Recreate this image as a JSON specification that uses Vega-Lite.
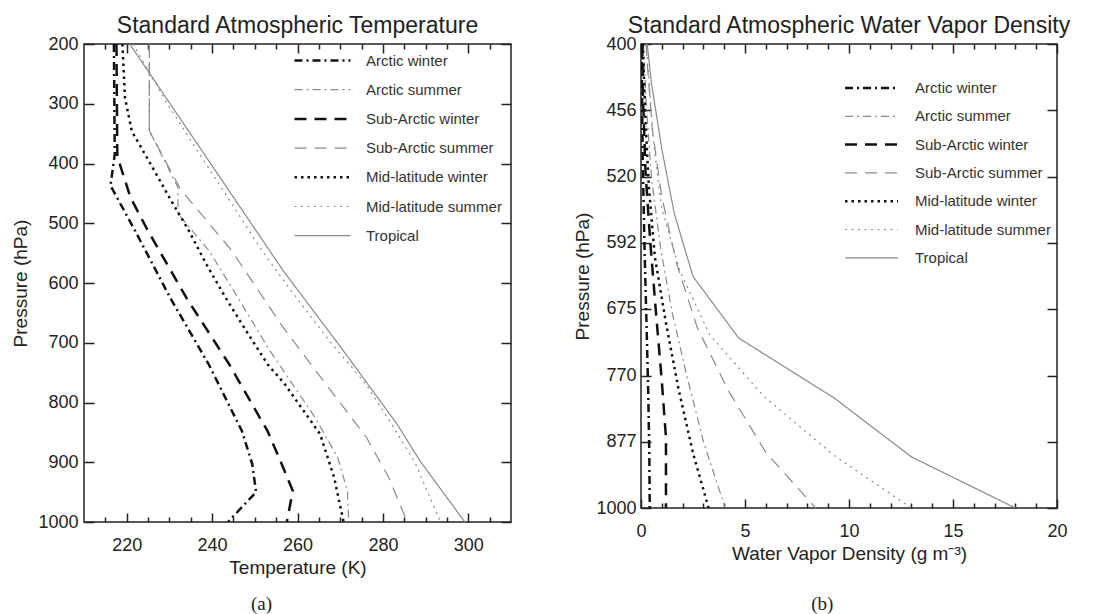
{
  "$schema": "https://vega.github.io/schema/vega-lite/v6.json",
  "background": "white",
  "padding": {"left": 11, "top": 14, "right": 5, "bottom": 0},
  "spacing": 61,
  "config": {"view": {"stroke": "#222", "strokeWidth": 1.5}, "font": "Liberation Sans"},
  "resolve": {"scale": {"color": "independent", "strokeDash": "independent"}, "legend": {"color": "independent", "strokeDash": "independent"}},
  "datasets": {
    "temp": [
      {"atm":"Arctic winter","p":200,"T":217.0},{"atm":"Arctic winter","p":385,"T":217.2},{"atm":"Arctic winter","p":437,"T":216.2},{"atm":"Arctic winter","p":513,"T":222.0},{"atm":"Arctic winter","p":625,"T":230.2},{"atm":"Arctic winter","p":736,"T":239.2},{"atm":"Arctic winter","p":848,"T":247.0},{"atm":"Arctic winter","p":903,"T":249.4},{"atm":"Arctic winter","p":950,"T":250.3},{"atm":"Arctic winter","p":1000,"T":243.7},
      {"atm":"Arctic summer","p":200,"T":225.3},{"atm":"Arctic summer","p":345,"T":225.3},{"atm":"Arctic summer","p":440,"T":232.0},{"atm":"Arctic summer","p":484,"T":232.0},{"atm":"Arctic summer","p":546,"T":239.3},{"atm":"Arctic summer","p":630,"T":246.5},{"atm":"Arctic summer","p":714,"T":253.6},{"atm":"Arctic summer","p":825,"T":264.1},{"atm":"Arctic summer","p":892,"T":269.4},{"atm":"Arctic summer","p":948,"T":271.7},{"atm":"Arctic summer","p":1000,"T":272.0},
      {"atm":"Sub-Arctic winter","p":200,"T":217.6},{"atm":"Sub-Arctic winter","p":388,"T":217.8},{"atm":"Sub-Arctic winter","p":457,"T":220.9},{"atm":"Sub-Arctic winter","p":513,"T":225.0},{"atm":"Sub-Arctic winter","p":625,"T":234.0},{"atm":"Sub-Arctic winter","p":736,"T":244.0},{"atm":"Sub-Arctic winter","p":848,"T":253.0},{"atm":"Sub-Arctic winter","p":903,"T":256.3},{"atm":"Sub-Arctic winter","p":948,"T":258.9},{"atm":"Sub-Arctic winter","p":1000,"T":257.5},
      {"atm":"Sub-Arctic summer","p":200,"T":225.3},{"atm":"Sub-Arctic summer","p":345,"T":225.3},{"atm":"Sub-Arctic summer","p":443,"T":232.6},{"atm":"Sub-Arctic summer","p":546,"T":244.6},{"atm":"Sub-Arctic summer","p":674,"T":256.6},{"atm":"Sub-Arctic summer","p":781,"T":267.9},{"atm":"Sub-Arctic summer","p":859,"T":276.2},{"atm":"Sub-Arctic summer","p":926,"T":281.4},{"atm":"Sub-Arctic summer","p":1000,"T":285.7},
      {"atm":"Mid-latitude winter","p":200,"T":219.0},{"atm":"Mid-latitude winter","p":290,"T":219.6},{"atm":"Mid-latitude winter","p":346,"T":221.2},{"atm":"Mid-latitude winter","p":401,"T":225.6},{"atm":"Mid-latitude winter","p":457,"T":230.0},{"atm":"Mid-latitude winter","p":513,"T":234.6},{"atm":"Mid-latitude winter","p":568,"T":238.6},{"atm":"Mid-latitude winter","p":625,"T":243.2},{"atm":"Mid-latitude winter","p":686,"T":248.5},{"atm":"Mid-latitude winter","p":736,"T":253.0},{"atm":"Mid-latitude winter","p":769,"T":257.0},{"atm":"Mid-latitude winter","p":853,"T":265.3},{"atm":"Mid-latitude winter","p":926,"T":268.6},{"atm":"Mid-latitude winter","p":1000,"T":270.8},
      {"atm":"Mid-latitude summer","p":200,"T":221.5},{"atm":"Mid-latitude summer","p":300,"T":229.5},{"atm":"Mid-latitude summer","p":400,"T":238.5},{"atm":"Mid-latitude summer","p":546,"T":251.7},{"atm":"Mid-latitude summer","p":613,"T":258.5},{"atm":"Mid-latitude summer","p":697,"T":267.5},{"atm":"Mid-latitude summer","p":769,"T":276.0},{"atm":"Mid-latitude summer","p":836,"T":282.0},{"atm":"Mid-latitude summer","p":900,"T":287.5},{"atm":"Mid-latitude summer","p":1000,"T":293.5},
      {"atm":"Tropical","p":200,"T":220.7},{"atm":"Tropical","p":580,"T":256.7},{"atm":"Tropical","p":708,"T":270.2},{"atm":"Tropical","p":836,"T":283.3},{"atm":"Tropical","p":900,"T":288.9},{"atm":"Tropical","p":1000,"T":299.2}
    ],
    "wv": [
      {"atm":"Arctic winter","p":400,"v":0.03},{"atm":"Arctic winter","p":500,"v":0.08},{"atm":"Arctic winter","p":600,"v":0.17},{"atm":"Arctic winter","p":700,"v":0.27},{"atm":"Arctic winter","p":800,"v":0.35},{"atm":"Arctic winter","p":900,"v":0.40},{"atm":"Arctic winter","p":1000,"v":0.42},
      {"atm":"Arctic summer","p":400,"v":0.12},{"atm":"Arctic summer","p":450,"v":0.25},{"atm":"Arctic summer","p":520,"v":0.5},{"atm":"Arctic summer","p":600,"v":0.95},{"atm":"Arctic summer","p":680,"v":1.5},{"atm":"Arctic summer","p":770,"v":2.2},{"atm":"Arctic summer","p":877,"v":3.0},{"atm":"Arctic summer","p":1000,"v":4.05},
      {"atm":"Sub-Arctic winter","p":400,"v":0.06},{"atm":"Sub-Arctic winter","p":447,"v":0.1},{"atm":"Sub-Arctic winter","p":516,"v":0.22},{"atm":"Sub-Arctic winter","p":593,"v":0.45},{"atm":"Sub-Arctic winter","p":680,"v":0.72},{"atm":"Sub-Arctic winter","p":778,"v":1.0},{"atm":"Sub-Arctic winter","p":870,"v":1.2},{"atm":"Sub-Arctic winter","p":1000,"v":1.2},
      {"atm":"Sub-Arctic summer","p":400,"v":0.25},{"atm":"Sub-Arctic summer","p":413,"v":0.29},{"atm":"Sub-Arctic summer","p":473,"v":0.54},{"atm":"Sub-Arctic summer","p":541,"v":1.0},{"atm":"Sub-Arctic summer","p":616,"v":1.7},{"atm":"Sub-Arctic summer","p":700,"v":2.7},{"atm":"Sub-Arctic summer","p":793,"v":4.2},{"atm":"Sub-Arctic summer","p":896,"v":6.0},{"atm":"Sub-Arctic summer","p":1000,"v":8.4},
      {"atm":"Mid-latitude winter","p":400,"v":0.085},{"atm":"Mid-latitude winter","p":463,"v":0.21},{"atm":"Mid-latitude winter","p":531,"v":0.38},{"atm":"Mid-latitude winter","p":608,"v":0.66},{"atm":"Mid-latitude winter","p":694,"v":1.2},{"atm":"Mid-latitude winter","p":790,"v":1.8},{"atm":"Mid-latitude winter","p":897,"v":2.5},{"atm":"Mid-latitude winter","p":1000,"v":3.25},
      {"atm":"Mid-latitude summer","p":400,"v":0.25},{"atm":"Mid-latitude summer","p":426,"v":0.37},{"atm":"Mid-latitude summer","p":487,"v":0.61},{"atm":"Mid-latitude summer","p":554,"v":1.0},{"atm":"Mid-latitude summer","p":628,"v":1.9},{"atm":"Mid-latitude summer","p":710,"v":3.3},{"atm":"Mid-latitude summer","p":802,"v":5.9},{"atm":"Mid-latitude summer","p":902,"v":9.3},{"atm":"Mid-latitude summer","p":1000,"v":13.0},
      {"atm":"Tropical","p":400,"v":0.3},{"atm":"Tropical","p":432,"v":0.5},{"atm":"Tropical","p":492,"v":1.0},{"atm":"Tropical","p":559,"v":1.6},{"atm":"Tropical","p":633,"v":2.5},{"atm":"Tropical","p":715,"v":4.7},{"atm":"Tropical","p":805,"v":9.3},{"atm":"Tropical","p":904,"v":13.0},{"atm":"Tropical","p":1000,"v":18.0}
    ]
  },
  "hconcat": [
    {
      "title": {"text": "(a)", "orient": "bottom", "anchor": "middle", "frame": "bounds", "font": "Liberation Serif", "fontSize": 19, "fontWeight": "normal", "color": "#222", "offset": 17},
      "vconcat": [
        {
          "title": {"text": "Standard Atmospheric Temperature", "font": "Liberation Sans", "fontSize": 23, "fontWeight": "normal", "color": "#222", "offset": -3},
          "width": 427,
          "height": 478,
          "data": {"name": "temp"},
          "mark": {"type": "line", "clip": true},
          "encoding": {
            "x": {"field": "T", "type": "quantitative", "scale": {"domain": [210, 310], "nice": false, "zero": false},
                  "axis": {"orient": "bottom", "values": [215, 220, 225, 230, 235, 240, 245, 250, 255, 260, 265, 270, 275, 280, 285, 290, 295, 300, 305],
                           "labelExpr": "datum.value % 20 === 0 ? datum.label : ''",
                           "ticks": false, "domain": false,
                           "grid": true, "gridColor": "#222", "gridWidth": 1.5, "gridOpacity": 1,
                           "gridDash": {"condition": {"test": "datum.value % 20 === 0", "value": [9, 460, 9, 100]}, "value": [5, 468, 5, 100]},
                           "labelFont": "Liberation Sans", "labelFontSize": 18, "labelColor": "#222", "labelPadding": 14, "labelFlush": false, "labelOverlap": false,
                           "title": "Temperature (K)", "titleFont": "Liberation Sans", "titleFontSize": 19, "titleFontWeight": "normal", "titleColor": "#222", "titlePadding": 4}},
            "y": {"field": "p", "type": "quantitative", "scale": {"domain": [200, 1000], "reverse": true, "nice": false, "zero": false},
                  "axis": {"orient": "left", "values": [200, 300, 400, 500, 600, 700, 800, 900, 1000], "format": "d",
                           "ticks": false, "domain": false,
                           "grid": true, "gridColor": "#222", "gridWidth": 1.5, "gridOpacity": 1, "gridDash": [10, 407, 10, 100],
                           "labelFont": "Liberation Sans", "labelFontSize": 18, "labelColor": "#222", "labelPadding": 6, "labelFlush": false, "labelOverlap": false,
                           "title": "Pressure (hPa)", "titleFont": "Liberation Sans", "titleFontSize": 19, "titleFontWeight": "normal", "titleColor": "#222", "titlePadding": 7}},
            "color": {"field": "atm", "type": "nominal",
                      "scale": {"domain": ["Arctic winter", "Arctic summer", "Sub-Arctic winter", "Sub-Arctic summer", "Mid-latitude winter", "Mid-latitude summer", "Tropical"], "range": ["#111111", "#8a8a8a", "#111111", "#8a8a8a", "#111111", "#8a8a8a", "#8a8a8a"]},
                      "legend": {"orient": "none", "legendX": 231, "legendY": 9, "title": null, "padding": 0, "symbolType": "M-3.733,0H3.733", "symbolSize": 225, "labelOffset": 36, "rowPadding": 13.2, "labelFont": "Liberation Sans", "labelFontSize": 15, "labelColor": "#333", "labelLimit": 300,
                                 "encode": {"symbols": {"update": {"strokeWidth": {"signal": "indexof(['Arctic winter','Sub-Arctic winter','Mid-latitude winter'], datum.value) >= 0 ? 2.5 : 1.2"}}}}}},
            "strokeDash": {"field": "atm", "type": "nominal",
                           "scale": {"domain": ["Arctic winter", "Arctic summer", "Sub-Arctic winter", "Sub-Arctic summer", "Mid-latitude winter", "Mid-latitude summer", "Tropical"], "range": [[8, 4, 2, 4], [8, 4, 2, 4], [12, 8], [12, 8], [2.5, 4], [2, 4.5], [1, 0]]}},
            "strokeWidth": {"condition": {"test": "indexof(['Arctic winter','Sub-Arctic winter','Mid-latitude winter'], datum.atm) >= 0", "value": 2.5}, "value": 1.2},
            "order": {"field": "p", "type": "quantitative"}
          }
        }
      ]
    },
    {
      "title": {"text": "(b)", "orient": "bottom", "anchor": "middle", "frame": "bounds", "font": "Liberation Serif", "fontSize": 19, "fontWeight": "normal", "color": "#222", "offset": 31},
      "vconcat": [
        {
          "title": {"text": "Standard Atmospheric Water Vapor Density", "font": "Liberation Sans", "fontSize": 23, "fontWeight": "normal", "color": "#222", "offset": -3},
          "width": 416,
          "height": 464,
          "data": {"name": "wv"},
          "mark": {"type": "line", "clip": true},
          "encoding": {
            "x": {"field": "v", "type": "quantitative", "scale": {"domain": [0, 20], "nice": false, "zero": false},
                  "axis": {"orient": "bottom", "values": [0, 1, 2, 3, 4, 5, 6, 7, 8, 9, 10, 11, 12, 13, 14, 15, 16, 17, 18, 19, 20],
                           "labelExpr": "datum.value % 5 === 0 ? datum.label : ''",
                           "ticks": false, "domain": false,
                           "grid": true, "gridColor": "#222", "gridWidth": 1.5, "gridOpacity": 1,
                           "gridDash": {"condition": {"test": "datum.value % 5 === 0", "value": [9, 446, 9, 100]}, "value": [5, 454, 5, 100]},
                           "labelFont": "Liberation Sans", "labelFontSize": 18, "labelColor": "#222", "labelPadding": 14, "labelFlush": false, "labelOverlap": false,
                           "title": "Water Vapor Density (g m⁻³)", "titleFont": "Liberation Sans", "titleFontSize": 19, "titleFontWeight": "normal", "titleColor": "#222", "titlePadding": 4}},
            "y": {"field": "p", "type": "quantitative", "scale": {"type": "log", "domain": [400, 1000], "reverse": true, "nice": false, "zero": false},
                  "axis": {"orient": "left", "values": [400, 456, 520, 592, 675, 770, 877, 1000], "format": "d",
                           "ticks": false, "domain": false,
                           "grid": true, "gridColor": "#222", "gridWidth": 1.5, "gridOpacity": 1, "gridDash": [10, 396, 10, 100],
                           "labelFont": "Liberation Sans", "labelFontSize": 18, "labelColor": "#222", "labelPadding": 5, "labelFlush": false, "labelOverlap": false,
                           "title": "Pressure (hPa)", "titleFont": "Liberation Sans", "titleFontSize": 19, "titleFontWeight": "normal", "titleColor": "#222", "titlePadding": 3}},
            "color": {"field": "atm", "type": "nominal",
                      "scale": {"domain": ["Arctic winter", "Arctic summer", "Sub-Arctic winter", "Sub-Arctic summer", "Mid-latitude winter", "Mid-latitude summer", "Tropical"], "range": ["#111111", "#8a8a8a", "#111111", "#8a8a8a", "#111111", "#8a8a8a", "#8a8a8a"]},
                      "legend": {"orient": "none", "legendX": 223, "legendY": 36.5, "title": null, "padding": 0, "symbolType": "M-3.533,0H3.533", "symbolSize": 225, "labelOffset": 36, "rowPadding": 12.3, "labelFont": "Liberation Sans", "labelFontSize": 15, "labelColor": "#333", "labelLimit": 300,
                                 "encode": {"symbols": {"update": {"strokeWidth": {"signal": "indexof(['Arctic winter','Sub-Arctic winter','Mid-latitude winter'], datum.value) >= 0 ? 2.5 : 1.2"}}}}}},
            "strokeDash": {"field": "atm", "type": "nominal",
                           "scale": {"domain": ["Arctic winter", "Arctic summer", "Sub-Arctic winter", "Sub-Arctic summer", "Mid-latitude winter", "Mid-latitude summer", "Tropical"], "range": [[8, 4, 2, 4], [8, 4, 2, 4], [12, 8], [12, 8], [2.5, 4], [2, 4.5], [1, 0]]}},
            "strokeWidth": {"condition": {"test": "indexof(['Arctic winter','Sub-Arctic winter','Mid-latitude winter'], datum.atm) >= 0", "value": 2.5}, "value": 1.2},
            "order": {"field": "p", "type": "quantitative"}
          }
        }
      ]
    }
  ]
}
